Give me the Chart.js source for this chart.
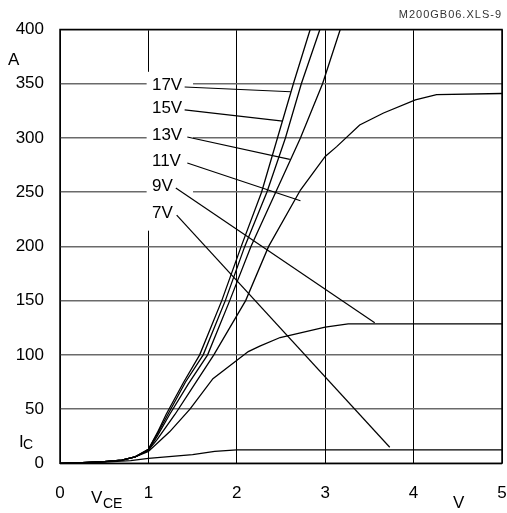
<!DOCTYPE html>
<html>
<head>
<meta charset="utf-8">
<style>
  html, body { margin: 0; padding: 0; background: #fff; }
  #wrap { width: 507px; height: 513px; }
</style>
<script src="https://cdn.jsdelivr.net/npm/chart.js@4/dist/chart.umd.min.js"></script>
</head>
<body>
<div id="wrap"><canvas id="chart" width="507" height="513"></canvas></div>
<script>
// Output characteristics: collector current IC (A) versus VCE (V), one curve per gate voltage.
const gateLabels = ['17V', '15V', '13V', '11V', '9V', '7V'];

const curve17V = [[0,0],[0.25,0.5],[0.5,1.5],[0.7,3],[0.85,6],[1.0,13],[1.1,28],[1.2,45],[1.4,75],[1.58,100],[1.83,150],[2.05,200],[2.28,250],[2.46,300],[2.64,350],[2.83,400]];
const curve15V = [[0,0],[0.25,0.5],[0.5,1.5],[0.7,3],[0.85,6],[1.0,13],[1.1,27],[1.22,45],[1.42,75],[1.62,100],[1.87,150],[2.09,200],[2.34,250],[2.55,300],[2.73,350],[2.94,400]];
const curve13V = [[0,0],[0.25,0.5],[0.5,1.5],[0.7,3],[0.85,6],[1.0,12],[1.1,25],[1.24,45],[1.45,73],[1.67,100],[1.92,150],[2.16,200],[2.44,250],[2.72,300],[2.97,350],[3.17,400]];
const curve11V = [[0,0],[0.25,0.5],[0.5,1.5],[0.7,3],[0.85,6],[1.0,12],[1.1,22],[1.3,45],[1.5,70],[1.74,100],[2.1,150],[2.36,200],[2.72,252],[3.0,283],[3.13,292],[3.39,312],[3.66,323],[4.02,335],[4.26,340],[5.0,341]];
const curve9V  = [[0,0],[0.25,0.5],[0.5,1.5],[0.7,3],[0.85,6],[1.0,11],[1.24,29],[1.47,50],[1.73,78],[2.13,103],[2.26,108],[2.49,116],[3.0,125.5],[3.26,128.5],[5.0,128.5]];
const curve7V  = [[0,0],[0.5,1],[0.8,2.5],[1.0,4.5],[1.5,8],[1.75,11],[2.0,12.3],[5.0,12.3]];

// Leader lines from each gate-voltage label to its curve: [start, end] in (V, A)
const leader17V = [[1.41,347],[2.61,342.6]];
const leader15V = [[1.41,325.8],[2.52,315.6]];
const leader13V = [[1.44,300.9],[2.60,280.3]];
const leader11V = [[1.44,276.9],[2.72,242.1]];
const leader9V  = [[1.31,253.8],[3.56,129.6]];
const leader7V  = [[1.32,228.9],[3.73,14.8]];

const xTicks = [0, 1, 2, 3, 4, 5];
const yTicks = [0, 50, 100, 150, 200, 250, 300, 350, 400];

const curves = [curve17V, curve15V, curve13V, curve11V, curve9V, curve7V];
const leaders = [leader17V, leader15V, leader13V, leader11V, leader9V, leader7V];

const toPoints = arr => arr.map(([x, y]) => ({ x, y }));

const datasets = [];
curves.forEach((c, i) => datasets.push({
  label: gateLabels[i], data: toPoints(c), showLine: true, borderColor: '#000',
  borderWidth: 1.3, pointRadius: 0, tension: 0, fill: false
}));
leaders.forEach((l, i) => datasets.push({
  label: gateLabels[i] + ' leader', data: toPoints(l), showLine: true, borderColor: '#000',
  borderWidth: 1.2, pointRadius: 0, tension: 0, fill: false
}));

const FONT = '"Liberation Sans", Arial, sans-serif';

// White panel behind the gate-voltage labels, plus the plot frame
const panelPlugin = {
  id: 'panel',
  beforeDatasetsDraw(chart) {
    const { ctx, scales: { x, y }, chartArea: a } = chart;
    ctx.save();
    ctx.fillStyle = '#fff';
    const x0 = x.getPixelForValue(0.98), x1 = x.getPixelForValue(1.505);
    const y0 = y.getPixelForValue(361), y1 = y.getPixelForValue(214.5);
    ctx.fillRect(x0, y0, x1 - x0, y1 - y0);
    ctx.strokeStyle = '#000';
    ctx.lineWidth = 1.5;
    ctx.strokeRect(a.left, a.top, a.right - a.left, a.bottom - a.top);
    ctx.restore();
  }
};

// Gate-voltage labels, axis names and the sheet reference text
const textPlugin = {
  id: 'texts',
  afterDatasetsDraw(chart) {
    const { ctx, scales: { x, y } } = chart;
    ctx.save();
    ctx.fillStyle = '#000';
    ctx.font = '17px ' + FONT;
    ctx.textAlign = 'left';
    ctx.textBaseline = 'middle';
    const labelX = x.getPixelForValue(1.04);
    leaders.forEach((l, i) => {
      ctx.fillText(gateLabels[i], labelX, y.getPixelForValue(l[0][1]) - 2);
    });
    ctx.restore();
  },
  afterDraw(chart) {
    const { ctx } = chart;
    ctx.save();
    ctx.fillStyle = '#000';
    ctx.textBaseline = 'alphabetic';
    ctx.textAlign = 'left';
    ctx.font = '17px ' + FONT;
    ctx.fillText('A', 8, 65);
    ctx.fillText('I', 19, 447);
    ctx.font = '14px ' + FONT;
    ctx.fillText('C', 23, 449);
    ctx.font = '17px ' + FONT;
    ctx.fillText('V', 91, 503);
    ctx.font = '14px ' + FONT;
    ctx.fillText('CE', 103, 508);
    ctx.font = '17px ' + FONT;
    ctx.fillText('V', 453, 508);

    ctx.font = '11px ' + FONT;
    ctx.fillStyle = '#333';
    ctx.textAlign = 'right';
    if ('letterSpacing' in ctx) ctx.letterSpacing = '1px';
    ctx.fillText('M200GB06.XLS-9', 502, 18);
    ctx.restore();
  }
};

new Chart(document.getElementById('chart'), {
  type: 'scatter',
  data: { datasets },
  options: {
    responsive: false,
    animation: false,
    devicePixelRatio: 1,
    layout: { padding: { top: 29.5, right: 5, left: 0, bottom: 0 } },
    plugins: { legend: { display: false }, tooltip: { enabled: false } },
    scales: {
      x: {
        type: 'linear', min: 0, max: 5,
        afterFit(s) { s.height = 49.7; s.paddingLeft = 0; s.paddingRight = 0; },
        afterBuildTicks(s) { s.ticks = xTicks.map(v => ({ value: v })); },
        grid: { color: '#000', lineWidth: 1, drawTicks: false },
        border: { display: false },
        ticks: { padding: 20, color: '#000', font: { family: FONT, size: 17 }, maxRotation: 0 }
      },
      y: {
        type: 'linear', min: 0, max: 400,
        afterFit(s) { s.width = 60; s.paddingTop = 0; s.paddingBottom = 0; },
        afterBuildTicks(s) { s.ticks = yTicks.map(v => ({ value: v })); },
        grid: { color: '#6a6a6a', lineWidth: 1.6, drawTicks: false },
        border: { display: false },
        ticks: { padding: 16, color: '#000', font: { family: FONT, size: 17 } }
      }
    }
  },
  plugins: [panelPlugin, textPlugin]
});
</script>
</body>
</html>
